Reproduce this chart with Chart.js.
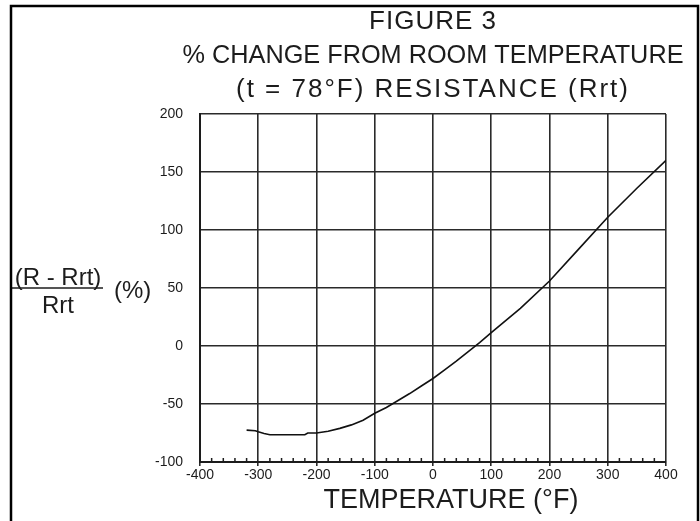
<!DOCTYPE html>
<html>
<head>
<meta charset="utf-8">
<script src="https://cdn.jsdelivr.net/npm/chart.js@4.4.1/dist/chart.umd.min.js"></script>
<style>
  html, body { margin: 0; padding: 0; background: #fff; }
  #wrap { width: 700px; height: 521px; }
</style>
</head>
<body>
<div id="wrap"><canvas id="fig3" width="700" height="521"></canvas></div>
<script>
// temperatura (°F) e variazione % della resistenza rispetto a Rrt (78°F)
const temps = [-320, -305, -300, -290, -280, -260, -240, -220, -215, -200, -180, -160, -140, -120,
               -100, -80, -60, -40, -20, 0, 20, 40, 60, 80, 100, 150, 200, 250, 300, 350, 400];
const pctChange = [-72.5, -73, -74, -75.5, -76.5, -76.5, -76.5, -76.5, -75, -75, -73.5, -71, -68, -64,
                   -58, -53, -47, -41, -34.5, -28, -20.5, -13, -5, 3, 11.5, 32.5, 56, 83.5, 111, 136, 160];

const titleLines = ['FIGURE 3', '% CHANGE FROM ROOM TEMPERATURE', '(t = 78°F) RESISTANCE (Rrt)'];
const xTitle = 'TEMPERATURE (°F)';
const yTitleTop = '(R - Rrt)';
const yTitleBottom = 'Rrt';
const yTitleUnit = '(%)';

const FONT = "'Liberation Sans', Arial, Helvetica, sans-serif";
const INK = '#1c1c1c';

const points = temps.map((t, i) => ({ x: t, y: pctChange[i] }));

// testi della figura, tacche minori e cornice
const figureText = {
    id: 'figureText',
    afterDraw(chart) {
        const ctx = chart.ctx;
        const area = chart.chartArea;
        const xs = chart.scales.x;
        const cx = (area.left + area.right) / 2;
        ctx.save();
        ctx.fillStyle = INK;
        ctx.strokeStyle = INK;

        // titolo su tre righe (spaziatura diversa come nell'originale)
        ctx.font = '26px ' + FONT;
        ctx.textAlign = 'center';
        ctx.textBaseline = 'alphabetic';
        ctx.letterSpacing = '1px';
        ctx.fillText(titleLines[0], cx, 29);
        ctx.letterSpacing = '0px';
        ctx.fillText(titleLines[1], cx, 63, 501);
        ctx.letterSpacing = '2px';
        ctx.fillText(titleLines[2], cx, 97);
        ctx.letterSpacing = '0px';

        // titolo asse x
        ctx.font = '27px ' + FONT;
        ctx.fillText(xTitle, cx + 18, area.bottom + 46);

        // titolo asse y (frazione)
        ctx.font = '24px ' + FONT;
        ctx.fillText(yTitleTop, 58, 285);
        ctx.fillText(yTitleBottom, 58, 313);
        ctx.textAlign = 'left';
        ctx.fillText(yTitleUnit, 114, 298);
        ctx.lineWidth = 1.5;
        ctx.beginPath();
        ctx.moveTo(12, 288);
        ctx.lineTo(103, 288);
        ctx.stroke();

        // tacche minori verso l'interno
        ctx.lineWidth = 1.5;
        xs.ticks.forEach(t => {
            if (t.value % 100 !== 0) {
                const px = xs.getPixelForValue(t.value);
                ctx.beginPath();
                ctx.moveTo(px, area.bottom);
                ctx.lineTo(px, area.bottom - 4);
                ctx.stroke();
            }
        });

        // cornice esterna
        ctx.lineWidth = 2.5;
        ctx.strokeStyle = '#000';
        ctx.strokeRect(11, 6, 687, 540);
        ctx.restore();
    }
};

const majorOnly = c => (c.tick && c.tick.value % 100 === 0) ? '#2a2a2a' : 'rgba(0,0,0,0)';

new Chart(document.getElementById('fig3'), {
    type: 'line',
    data: {
        datasets: [{
            data: points,
            borderColor: '#111',
            borderWidth: 1.6,
            pointRadius: 0,
            tension: 0,
            fill: false
        }]
    },
    options: {
        responsive: false,
        animation: false,
        devicePixelRatio: 1,
        layout: { padding: { left: 140, right: 34, top: 114, bottom: 29 } },
        plugins: {
            legend: { display: false },
            tooltip: { enabled: false },
            title: { display: false }
        },
        scales: {
            x: {
                type: 'linear',
                min: -400,
                max: 400,
                afterFit: s => { s.height = 30; },
                ticks: {
                    stepSize: 20,
                    maxTicksLimit: 50,
                    autoSkip: false,
                    maxRotation: 0,
                    padding: 1,
                    color: INK,
                    font: { family: FONT, size: 14 },
                    callback: v => (v % 100 === 0 ? String(v) : '')
                },
                grid: {
                    color: majorOnly,
                    tickColor: majorOnly,
                    lineWidth: 1.6,
                    tickLength: 4
                },
                border: { display: true, color: INK, width: 2 }
            },
            y: {
                min: -100,
                max: 200,
                afterFit: s => { s.width = 60; },
                ticks: {
                    stepSize: 50,
                    padding: 17,
                    color: INK,
                    font: { family: FONT, size: 14 }
                },
                grid: {
                    color: '#2a2a2a',
                    lineWidth: 1.6,
                    drawTicks: false
                },
                border: { display: true, color: INK, width: 2 }
            }
        }
    },
    plugins: [figureText]
});
</script>
</body>
</html>
